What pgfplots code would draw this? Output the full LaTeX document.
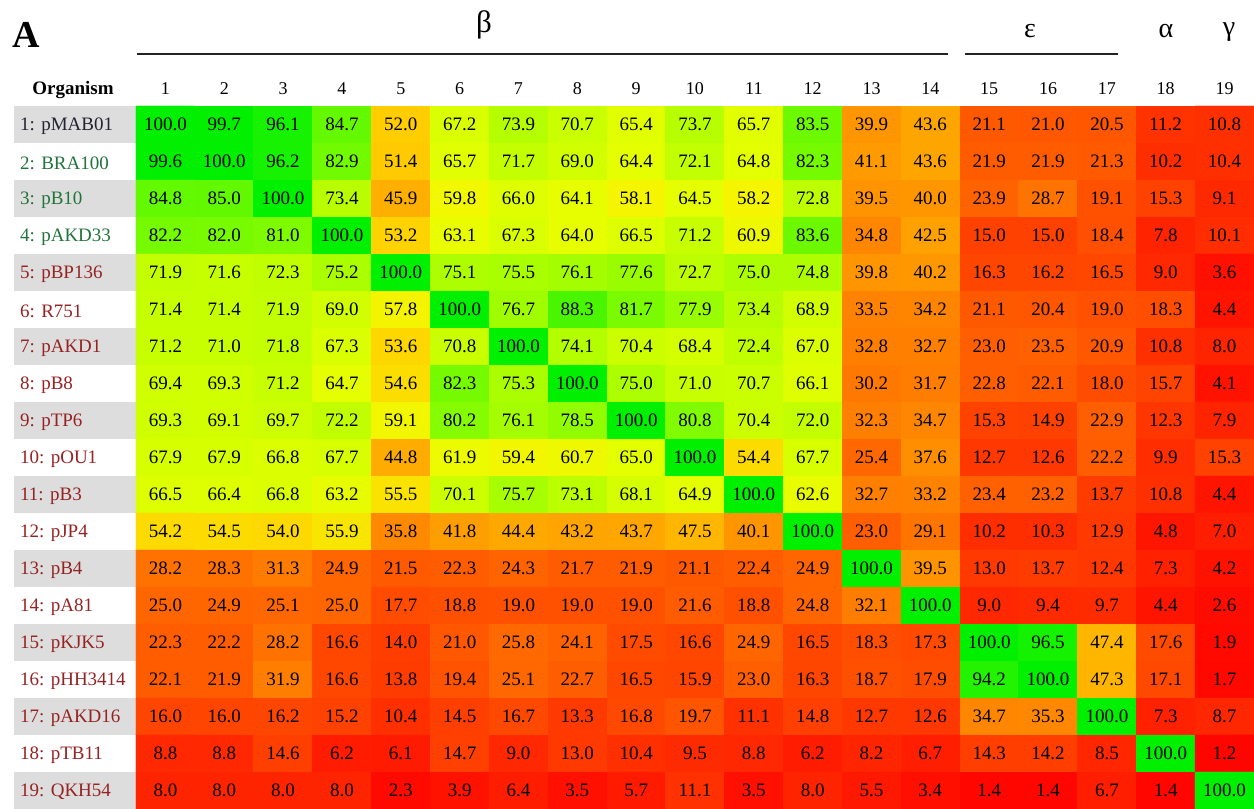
\documentclass[border=0pt]{standalone}
\usepackage{fontspec}
\setmainfont{Liberation Serif}
\usepackage{pgfplots}
\usepackage{pgfplotstable}
\pgfplotsset{compat=1.18}
\definecolor{lblred}{RGB}{150,35,35}
\definecolor{lblgreen}{RGB}{35,115,60}
\definecolor{lbldark}{RGB}{35,35,50}
\definecolor{bandgray}{RGB}{221,221,221}
\definecolor{rulegray}{RGB}{35,35,35}

% similarity matrix: col = column number, row = organism number (1 = top), val = identity
\pgfplotstableread{
col row val
1 1 100.0
2 1 99.7
3 1 96.1
4 1 84.7
5 1 52.0
6 1 67.2
7 1 73.9
8 1 70.7
9 1 65.4
10 1 73.7
11 1 65.7
12 1 83.5
13 1 39.9
14 1 43.6
15 1 21.1
16 1 21.0
17 1 20.5
18 1 11.2
19 1 10.8
1 2 99.6
2 2 100.0
3 2 96.2
4 2 82.9
5 2 51.4
6 2 65.7
7 2 71.7
8 2 69.0
9 2 64.4
10 2 72.1
11 2 64.8
12 2 82.3
13 2 41.1
14 2 43.6
15 2 21.9
16 2 21.9
17 2 21.3
18 2 10.2
19 2 10.4
1 3 84.8
2 3 85.0
3 3 100.0
4 3 73.4
5 3 45.9
6 3 59.8
7 3 66.0
8 3 64.1
9 3 58.1
10 3 64.5
11 3 58.2
12 3 72.8
13 3 39.5
14 3 40.0
15 3 23.9
16 3 28.7
17 3 19.1
18 3 15.3
19 3 9.1
1 4 82.2
2 4 82.0
3 4 81.0
4 4 100.0
5 4 53.2
6 4 63.1
7 4 67.3
8 4 64.0
9 4 66.5
10 4 71.2
11 4 60.9
12 4 83.6
13 4 34.8
14 4 42.5
15 4 15.0
16 4 15.0
17 4 18.4
18 4 7.8
19 4 10.1
1 5 71.9
2 5 71.6
3 5 72.3
4 5 75.2
5 5 100.0
6 5 75.1
7 5 75.5
8 5 76.1
9 5 77.6
10 5 72.7
11 5 75.0
12 5 74.8
13 5 39.8
14 5 40.2
15 5 16.3
16 5 16.2
17 5 16.5
18 5 9.0
19 5 3.6
1 6 71.4
2 6 71.4
3 6 71.9
4 6 69.0
5 6 57.8
6 6 100.0
7 6 76.7
8 6 88.3
9 6 81.7
10 6 77.9
11 6 73.4
12 6 68.9
13 6 33.5
14 6 34.2
15 6 21.1
16 6 20.4
17 6 19.0
18 6 18.3
19 6 4.4
1 7 71.2
2 7 71.0
3 7 71.8
4 7 67.3
5 7 53.6
6 7 70.8
7 7 100.0
8 7 74.1
9 7 70.4
10 7 68.4
11 7 72.4
12 7 67.0
13 7 32.8
14 7 32.7
15 7 23.0
16 7 23.5
17 7 20.9
18 7 10.8
19 7 8.0
1 8 69.4
2 8 69.3
3 8 71.2
4 8 64.7
5 8 54.6
6 8 82.3
7 8 75.3
8 8 100.0
9 8 75.0
10 8 71.0
11 8 70.7
12 8 66.1
13 8 30.2
14 8 31.7
15 8 22.8
16 8 22.1
17 8 18.0
18 8 15.7
19 8 4.1
1 9 69.3
2 9 69.1
3 9 69.7
4 9 72.2
5 9 59.1
6 9 80.2
7 9 76.1
8 9 78.5
9 9 100.0
10 9 80.8
11 9 70.4
12 9 72.0
13 9 32.3
14 9 34.7
15 9 15.3
16 9 14.9
17 9 22.9
18 9 12.3
19 9 7.9
1 10 67.9
2 10 67.9
3 10 66.8
4 10 67.7
5 10 44.8
6 10 61.9
7 10 59.4
8 10 60.7
9 10 65.0
10 10 100.0
11 10 54.4
12 10 67.7
13 10 25.4
14 10 37.6
15 10 12.7
16 10 12.6
17 10 22.2
18 10 9.9
19 10 15.3
1 11 66.5
2 11 66.4
3 11 66.8
4 11 63.2
5 11 55.5
6 11 70.1
7 11 75.7
8 11 73.1
9 11 68.1
10 11 64.9
11 11 100.0
12 11 62.6
13 11 32.7
14 11 33.2
15 11 23.4
16 11 23.2
17 11 13.7
18 11 10.8
19 11 4.4
1 12 54.2
2 12 54.5
3 12 54.0
4 12 55.9
5 12 35.8
6 12 41.8
7 12 44.4
8 12 43.2
9 12 43.7
10 12 47.5
11 12 40.1
12 12 100.0
13 12 23.0
14 12 29.1
15 12 10.2
16 12 10.3
17 12 12.9
18 12 4.8
19 12 7.0
1 13 28.2
2 13 28.3
3 13 31.3
4 13 24.9
5 13 21.5
6 13 22.3
7 13 24.3
8 13 21.7
9 13 21.9
10 13 21.1
11 13 22.4
12 13 24.9
13 13 100.0
14 13 39.5
15 13 13.0
16 13 13.7
17 13 12.4
18 13 7.3
19 13 4.2
1 14 25.0
2 14 24.9
3 14 25.1
4 14 25.0
5 14 17.7
6 14 18.8
7 14 19.0
8 14 19.0
9 14 19.0
10 14 21.6
11 14 18.8
12 14 24.8
13 14 32.1
14 14 100.0
15 14 9.0
16 14 9.4
17 14 9.7
18 14 4.4
19 14 2.6
1 15 22.3
2 15 22.2
3 15 28.2
4 15 16.6
5 15 14.0
6 15 21.0
7 15 25.8
8 15 24.1
9 15 17.5
10 15 16.6
11 15 24.9
12 15 16.5
13 15 18.3
14 15 17.3
15 15 100.0
16 15 96.5
17 15 47.4
18 15 17.6
19 15 1.9
1 16 22.1
2 16 21.9
3 16 31.9
4 16 16.6
5 16 13.8
6 16 19.4
7 16 25.1
8 16 22.7
9 16 16.5
10 16 15.9
11 16 23.0
12 16 16.3
13 16 18.7
14 16 17.9
15 16 94.2
16 16 100.0
17 16 47.3
18 16 17.1
19 16 1.7
1 17 16.0
2 17 16.0
3 17 16.2
4 17 15.2
5 17 10.4
6 17 14.5
7 17 16.7
8 17 13.3
9 17 16.8
10 17 19.7
11 17 11.1
12 17 14.8
13 17 12.7
14 17 12.6
15 17 34.7
16 17 35.3
17 17 100.0
18 17 7.3
19 17 8.7
1 18 8.8
2 18 8.8
3 18 14.6
4 18 6.2
5 18 6.1
6 18 14.7
7 18 9.0
8 18 13.0
9 18 10.4
10 18 9.5
11 18 8.8
12 18 6.2
13 18 8.2
14 18 6.7
15 18 14.3
16 18 14.2
17 18 8.5
18 18 100.0
19 18 1.2
1 19 8.0
2 19 8.0
3 19 8.0
4 19 8.0
5 19 2.3
6 19 3.9
7 19 6.4
8 19 3.5
9 19 5.7
10 19 11.1
11 19 3.5
12 19 8.0
13 19 5.5
14 19 3.4
15 19 1.4
16 19 1.4
17 19 6.7
18 19 1.4
19 19 100.0
}\simdata

\begin{document}
\begin{tikzpicture}
\useasboundingbox (0pt,0pt) rectangle (1254pt,809pt);
% alternating grey bands behind the organism names
\foreach \r in {1,3,5,7,9,11,13,15,17,19}{
  \fill[bandgray] (14pt,{(19-\r)*37pt}) rectangle (136pt,{(20-\r)*37pt});
}
\begin{axis}[
  at={(136pt,0pt)}, anchor=south west, scale only axis,
  width=1118pt, height=703pt,
  xmin=0.5, xmax=19.5, ymin=0.5, ymax=19.5,
  axis line style={draw=none}, tick style={draw=none}, major tick length=0pt,
  xtick={1,...,19},
  xticklabels={1,2,3,4,5,6,7,8,9,10,11,12,13,14,15,16,17,18,19},
  xticklabel pos=right,
  xticklabel style={font=\fontsize{18}{18}\selectfont, anchor=base, inner sep=0pt, yshift=11pt},
  ytick={1,...,19},
  yticklabels={
    {\textcolor{lblred}{19: QKH54}},
    {\textcolor{lblred}{18: pTB11}},
    {\textcolor{lblred}{17: pAKD16}},
    {\textcolor{lblred}{16: pHH3414}},
    {\textcolor{lblred}{15: pKJK5}},
    {\textcolor{lblred}{14: pA81}},
    {\textcolor{lblred}{13: pB4}},
    {\textcolor{lblred}{12: pJP4}},
    {\textcolor{lblred}{11: pB3}},
    {\textcolor{lblred}{10: pOU1}},
    {\textcolor{lblred}{9: pTP6}},
    {\textcolor{lblred}{8: pB8}},
    {\textcolor{lblred}{7: pAKD1}},
    {\textcolor{lblred}{6: R751}},
    {\textcolor{lblred}{5: pBP136}},
    {\textcolor{lblgreen}{4: pAKD33}},
    {\textcolor{lblgreen}{3: pB10}},
    {\textcolor{lblgreen}{2: BRA100}},
    {\textcolor{lbldark}{1: pMAB01}}},
  yticklabel style={font=\fontsize{19}{19}\selectfont, anchor=west, inner sep=0pt, xshift=-116pt, yshift=-1.5pt},
  colormap={sim}{rgb255(0pt)=(255,0,0); rgb255(10pt)=(255,45,0); rgb255(20pt)=(255,85,0);
    rgb255(30pt)=(255,120,0); rgb255(40pt)=(255,150,0); rgb255(47pt)=(255,180,0);
    rgb255(53pt)=(255,210,0); rgb255(58pt)=(245,245,0); rgb255(65pt)=(228,255,0);
    rgb255(72pt)=(195,255,0); rgb255(80pt)=(135,252,0); rgb255(90pt)=(60,245,0);
    rgb255(100pt)=(0,240,0)},
  point meta min=0, point meta max=100,
  /pgf/number format/assume math mode=true,
  clip=false,
]
\addplot[matrix plot*, mesh/cols=19, point meta=explicit,
  nodes near coords={\pgfmathprintnumber[fixed,fixed zerofill,precision=1]{\pgfplotspointmeta}},
  nodes near coords style={anchor=center, font=\fontsize{19}{19}\selectfont, text=black, inner sep=0pt},
] table[x=col, y expr={20-\thisrow{row}}, meta=val] {\simdata};
\end{axis}
% headers
\node[anchor=base west, font=\fontsize{38}{38}\selectfont\bfseries, inner sep=0pt] at (12pt,761pt) {A};
\node[anchor=base, font=\fontsize{19}{19}\selectfont\bfseries, inner sep=0pt] at (73pt,714pt) {Organism};
\node[anchor=base, font=\fontsize{31}{31}\selectfont, inner sep=0pt] at (484pt,776pt) {β};
\node[anchor=base, font=\fontsize{28}{28}\selectfont, inner sep=0pt] at (1030pt,771pt) {ε};
\node[anchor=base, font=\fontsize{28}{28}\selectfont, inner sep=0pt] at (1166pt,771pt) {α};
\node[anchor=base, font=\fontsize{28}{28}\selectfont, inner sep=0pt] at (1229pt,773pt) {γ};
\draw[line width=2.5pt, rulegray] (137pt,755pt) -- (948pt,755pt);
\draw[line width=2.5pt, rulegray] (965pt,755pt) -- (1118pt,755pt);
\end{tikzpicture}
\end{document}
